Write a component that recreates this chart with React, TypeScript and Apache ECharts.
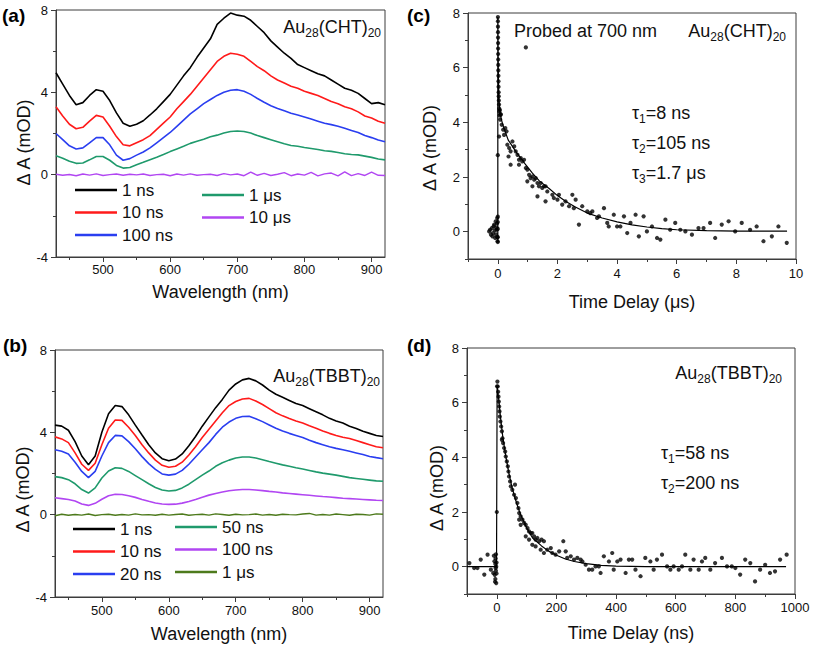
import React, { useEffect, useRef } from 'react';
import * as echarts from 'echarts';

const FONT = '"Liberation Sans", Arial, Helvetica, sans-serif';

// ---------- Panel (a)/(b) wavelength grid ----------
const wavelengths = [
  430, 440, 450, 460, 470, 480, 490, 500, 510, 520,
  530, 540, 550, 560, 570, 580, 590, 600, 610, 620,
  630, 640, 650, 660, 670, 680, 690, 700, 710, 720,
  730, 740, 750, 760, 770, 780, 790, 800, 810, 820,
  830, 840, 850, 860, 870, 880, 890, 900, 910, 920,
];

// ---------- Panel (a): Au28(CHT)20 ----------
const cht1ns = [
  4.95, 4.4, 3.85, 3.4, 3.5, 3.85, 4.13, 4.05, 3.6, 3.0,
  2.5, 2.35, 2.45, 2.62, 2.9, 3.2, 3.55, 3.9, 4.35, 4.8,
  5.2, 5.7, 6.15, 6.6, 7.3, 7.6, 7.85, 7.75, 7.7, 7.5,
  7.2, 6.9, 6.5, 6.2, 5.9, 5.65, 5.35, 5.2, 5.05, 4.9,
  4.8, 4.6, 4.4, 4.2, 4.1, 3.95, 3.7, 3.45, 3.5, 3.4,
];
const cht10ns = [
  3.3, 2.85, 2.45, 2.23, 2.3, 2.6, 2.88, 2.8, 2.35, 1.85,
  1.45, 1.4, 1.55, 1.7, 1.9, 2.2, 2.5, 2.8, 3.2, 3.55,
  3.9, 4.3, 4.7, 5.1, 5.5, 5.75, 5.9, 5.85, 5.75, 5.5,
  5.25, 5.05, 4.8, 4.6, 4.45, 4.3, 4.2, 4.05, 3.95, 3.85,
  3.7, 3.55, 3.45, 3.3, 3.2, 3.05, 2.85, 2.75, 2.6, 2.5,
];
const cht100ns = [
  2.0, 1.7, 1.4, 1.25, 1.3, 1.55, 1.8, 1.8, 1.45, 0.95,
  0.7, 0.78, 0.95, 1.1, 1.3, 1.55, 1.8, 2.05, 2.35, 2.65,
  2.95, 3.2, 3.45, 3.65, 3.85, 4.0, 4.1, 4.13, 4.05, 3.9,
  3.7, 3.52, 3.35, 3.22, 3.1, 2.98, 2.9, 2.8, 2.7, 2.6,
  2.5, 2.43, 2.35, 2.25, 2.15, 2.05, 1.9, 1.8, 1.68, 1.6,
];
const cht1us = [
  0.92, 0.8, 0.65, 0.55, 0.57, 0.72, 0.88, 0.88, 0.7, 0.45,
  0.32, 0.35, 0.48, 0.6, 0.73, 0.85, 0.98, 1.12, 1.25, 1.38,
  1.52, 1.62, 1.72, 1.84, 1.92, 2.02, 2.1, 2.12, 2.1, 2.02,
  1.9, 1.8, 1.7, 1.6, 1.5, 1.42, 1.38, 1.32, 1.27, 1.22,
  1.16, 1.13, 1.08, 1.02, 0.98, 0.96, 0.9, 0.84, 0.76, 0.72,
];
const cht10us = [
  0.02, -0.03, 0.01, -0.05, 0.03, -0.02, 0.04, -0.04, 0.0, 0.03,
  -0.03, 0.02, -0.01, 0.03, -0.04, 0.0, 0.02, -0.05, 0.03, -0.02,
  0.04, -0.03, 0.0, 0.02, -0.04, 0.05, -0.01, 0.03, -0.05, 0.12,
  -0.03, 0.06, -0.04, 0.02, 0.1, -0.05, 0.03, -0.02, 0.11, -0.06,
  0.04, 0.08, -0.06, 0.14, -0.05, 0.05, -0.04, 0.12, -0.03, -0.04,
];

// ---------- Panel (b): Au28(TBBT)20 ----------
const tbbt1ns = [
  4.35, 4.3, 4.1, 3.55, 2.85, 2.42, 2.85, 4.0, 4.9, 5.3,
  5.25, 4.85, 4.35, 3.87, 3.4, 3.0, 2.72, 2.62, 2.7, 2.95,
  3.35, 3.8, 4.3, 4.75, 5.2, 5.6, 6.05, 6.35, 6.55, 6.62,
  6.5, 6.3, 6.05, 5.85, 5.7, 5.55, 5.4, 5.3, 5.15, 5.0,
  4.85, 4.68, 4.55, 4.45, 4.3, 4.19, 4.05, 3.95, 3.85, 3.8,
];
const tbbt10ns = [
  3.78, 3.68, 3.5, 3.0, 2.45, 2.15, 2.5, 3.4, 4.2, 4.6,
  4.58, 4.25, 3.85, 3.4, 3.0, 2.65, 2.4, 2.3, 2.35, 2.55,
  2.9, 3.3, 3.75, 4.15, 4.55, 4.95, 5.3, 5.5, 5.62, 5.65,
  5.52, 5.35, 5.15, 4.95, 4.8, 4.67, 4.55, 4.45, 4.32, 4.2,
  4.07, 3.95, 3.85, 3.76, 3.7, 3.6, 3.5, 3.4, 3.3, 3.25,
];
const tbbt20ns = [
  3.15, 3.08, 2.95, 2.55, 2.1, 1.8, 2.1, 2.85, 3.5, 3.85,
  3.83, 3.55, 3.2, 2.82, 2.48, 2.2, 1.98, 1.92, 1.97, 2.15,
  2.45, 2.8, 3.15, 3.5, 3.9, 4.25, 4.5, 4.68, 4.77, 4.78,
  4.66, 4.52, 4.36, 4.2, 4.06, 3.95, 3.85, 3.75, 3.62, 3.5,
  3.4, 3.3, 3.22, 3.15, 3.08, 3.0, 2.92, 2.83, 2.77, 2.72,
];
const tbbt50ns = [
  1.85, 1.8, 1.7, 1.5, 1.22, 1.05, 1.3, 1.78, 2.12, 2.28,
  2.25, 2.1, 1.9, 1.7, 1.5, 1.32, 1.2, 1.15, 1.18, 1.3,
  1.48, 1.7, 1.92, 2.12, 2.35, 2.52, 2.65, 2.75, 2.8, 2.8,
  2.75, 2.67, 2.58, 2.5, 2.42, 2.35, 2.28, 2.22, 2.15, 2.08,
  2.02, 1.97, 1.92, 1.86, 1.8, 1.76, 1.72, 1.68, 1.64, 1.62,
];
const tbbt100ns = [
  0.82, 0.78, 0.74, 0.66, 0.52, 0.45, 0.55, 0.75, 0.92, 0.99,
  0.98, 0.92, 0.84, 0.74, 0.65, 0.57, 0.52, 0.5, 0.51, 0.56,
  0.64, 0.74, 0.85, 0.95, 1.03, 1.1, 1.16, 1.2, 1.22, 1.22,
  1.2, 1.17, 1.13, 1.1, 1.06, 1.03, 1.0, 0.97, 0.94, 0.91,
  0.88, 0.86, 0.83, 0.8, 0.78, 0.76, 0.74, 0.72, 0.7, 0.69,
];
const tbbt1us = [
  -0.05, 0.02, -0.03, 0.01, -0.02, 0.03, -0.04, 0.0, 0.02, -0.03,
  0.01, -0.02, 0.04, -0.01, 0.0, -0.03, 0.02, -0.02, 0.01, 0.03,
  -0.03, 0.0, 0.02, -0.02, 0.04, 0.01, -0.03, 0.02, -0.01, 0.0,
  0.03, -0.02, 0.01, -0.03, 0.02, 0.0, -0.01, 0.03, 0.06, -0.02,
  0.01, -0.02, 0.03, 0.0, -0.03, 0.02, 0.01, -0.02, 0.04, 0.02,
];

// ---------- Panel (c): kinetics, probed at 700 nm (x in µs) ----------
const chtKineticPoints = [
  [-0.29, 0.01], [-0.26, 0.07], [-0.23, -0.11], [-0.2, 0.13], [-0.18, -0.17], [-0.16, -0.05],
  [-0.14, 0.2], [-0.12, 0.26], [-0.1, 0.05], [-0.09, -0.23], [-0.07, 0.38], [-0.06, -0.1],
  [-0.05, 0.15], [-0.04, 0.07], [-0.03, 0.3], [-0.02, 0.5], [-0.02, -0.2], [-0.01, -0.35],
  [0, -0.38], [0, -0.2], [0, 0.1], [0, 0.35], [0, 0.55], [0, 2.8],
  [0.003, 7.85], [0.004, 7.7], [0.005, 7.5], [0.006, 7.3], [0.008, 7.1], [0.009, 6.9],
  [0.01, 6.7], [0.012, 6.5], [0.013, 6.3], [0.015, 6.1], [0.017, 5.9], [0.02, 5.7],
  [0.022, 5.5], [0.025, 5.3], [0.028, 5.1], [0.03, 4.95], [0.035, 4.8], [0.04, 4.65],
  [0.045, 4.5], [0.05, 4.4], [0.06, 4.25], [0.07, 4.45], [0.08, 4.1], [0.09, 4.3],
  [0.1, 4.28], [0.13, 3.91], [0.04, 3.48], [0.18, 3.73], [0.21, 3.54], [0.25, 3.79],
  [0.29, 3.67], [0.32, 3.18], [0.38, 3.06], [0.43, 2.94], [0.36, 2.75], [0.55, 3.12],
  [0.6, 2.94], [0.66, 2.81], [0.71, 2.63], [0.77, 2.69], [0.82, 2.57], [0.88, 2.63],
  [0.49, 3.3], [0.43, 2.45], [0.71, 2.45], [0.94, 2.33], [0.99, 2.27], [1.05, 2.08],
  [1.1, 1.96], [1.16, 2.02], [1.22, 1.9], [1.27, 1.96], [1.33, 1.78], [1.38, 1.66],
  [1.44, 1.78], [1.49, 1.6], [1.55, 1.66], [1.6, 1.66], [1.66, 1.47], [0.99, 1.84],
  [1.16, 1.66], [1.33, 1.29], [1.6, 1.11], [1.83, 1.35], [1.88, 1.23], [2.0, 1.17],
  [2.05, 1.35], [2.16, 0.99], [2.27, 1.11], [2.39, 0.93], [2.5, 1.35], [2.55, 0.86],
  [2.61, 1.17], [2.72, 0.26], [2.83, 0.93], [3.0, 0.74], [3.1, 0.68], [3.17, 0.74],
  [3.33, 0.5], [3.39, 0.56], [3.56, 0.86], [3.67, 0.32], [3.72, 0.19], [3.89, 0.62],
  [4.0, 0.19], [4.11, 0.19], [4.23, 0.56], [4.34, -0.05], [4.45, 0.32], [4.62, 0.62],
  [4.73, -0.17], [4.89, 0.56], [5.0, 0.01], [5.17, 0.19], [5.34, -0.23], [5.45, -0.29],
  [5.62, 0.44], [5.78, 0.07], [5.95, 0.32], [6.12, 0.07], [6.29, 0.01], [6.51, -0.11],
  [6.73, 0.13], [6.9, 0.13], [7.12, 0.32], [7.29, -0.23], [7.51, 0.26], [7.74, 0.38],
  [7.96, 0.01], [8.18, 0.32], [8.46, 0.07], [8.68, 0.19], [8.91, -0.35], [9.19, -0.17],
  [9.41, 0.19], [9.69, -0.41], [0.94, 6.74],
];
const chtKineticFit = [
  [0, -0.38], [0, 7.85], [0.01, 6.6], [0.02, 5.6], [0.04, 4.8], [0.07, 4.4], [0.12, 4.1],
  [0.2, 3.8], [0.35, 3.35], [0.6, 2.94], [0.9, 2.5], [1.16, 2.14], [1.4, 1.85], [1.72, 1.58],
  [2.0, 1.32], [2.27, 1.11], [2.6, 0.9], [3.0, 0.68], [3.5, 0.5], [4.0, 0.36], [4.5, 0.25],
  [5.0, 0.17], [5.5, 0.11], [6.0, 0.07], [7.0, 0.04], [8.0, 0.02], [9.7, 0.02],
];

// ---------- Panel (d): kinetics (x in ns) ----------
const tbbtKineticPoints = [
  [-92, 0.13], [-76, -0.05], [-65, -0.05], [-54, 0.26], [-42, -0.29], [-31, 0.44], [-20, -0.11],
  [-12, -0.23], [-10, 0.4], [-8, 0.2], [-7, -0.3], [-6, -0.55], [-5, 0.1], [-5, -0.45],
  [-4, -0.05], [-4, 0.3], [-3, -0.15], [-3, 0.45], [-2, 0.0], [-2, -0.6], [-1, 0.15], [-1, -0.25],
  [0, 2.0], [1, 6.6], [2, 6.77], [3, 6.59], [4.5, 6.4], [5.6, 6.22], [6.7, 6.04], [7.8, 5.86],
  [9, 5.68], [10, 5.49], [12, 5.31], [14.5, 5.13], [17, 4.95], [17, 4.64], [19, 4.7], [21, 4.52],
  [24.5, 4.34], [28, 4.21], [30, 4.03], [33.5, 3.85], [37, 3.67], [39, 3.48], [41, 3.3],
  [44.6, 3.12], [47, 2.94], [52, 2.81], [58, 2.63], [61, 3.0], [64, 2.51], [69, 2.33],
  [72.5, 2.14], [75, 1.96], [80, 1.84], [86, 1.72], [91.5, 1.6], [97, 1.53], [103, 1.41],
  [108, 1.29], [75, 1.72], [80, 1.53], [114, 1.23], [119, 1.23], [125, 1.11], [130, 0.99],
  [136, 1.05], [142, 0.93], [150, 0.99], [158, 0.93], [97, 1.11], [108, 0.99], [119, 0.8],
  [130, 0.74], [147, 0.62], [158, 0.5], [169, 0.62], [181, 0.68], [186, 0.5], [197, 0.44],
  [209, 0.56], [223, 0.93], [231, 0.56], [236, 0.32], [248, 0.38], [259, 0.26], [270, 0.32],
  [281, 0.26], [287, 0.19], [298, 0.07], [309, -0.11], [320, -0.11], [331, 0.01], [342, 0.01],
  [348, -0.23], [359, 0.38], [376, 0.19], [387, 0.5], [392, -0.11], [404, 0.19], [415, 0.26],
  [432, -0.23], [443, 0.26], [454, 0.26], [465, -0.11], [482, -0.35], [498, 0.32], [515, 0.19],
  [526, -0.11], [537, 0.26], [554, 0.44], [571, 0.01], [582, -0.11], [593, 0.01], [610, -0.11],
  [621, 0.01], [632, 0.44], [649, -0.11], [660, 0.26], [677, -0.11], [688, 0.19], [699, 0.32],
  [716, -0.11], [732, 0.13], [755, 0.32], [772, 0.01], [788, 0.01], [800, -0.05], [816, -0.29],
  [833, 0.26], [850, 0.13], [866, -0.54], [883, -0.11], [900, 0.07], [916, -0.23], [933, -0.17],
  [950, 0.26], [972, 0.44],
];
const tbbtKineticFit = [
  [-100, 0], [-1, 0], [1, 6.6], [4, 6.35], [8, 5.95], [12, 5.5], [20, 4.75], [30, 4.05],
  [40, 3.45], [50, 2.95], [60, 2.55], [70, 2.2], [80, 1.9], [100, 1.42], [120, 1.05],
  [150, 0.76], [175, 0.56], [200, 0.42], [230, 0.28], [260, 0.19], [300, 0.11], [350, 0.05],
  [400, 0.02], [500, 0.0], [970, 0.0],
];

// ---------- Axis tick positions ----------
const specXMajor = [500, 600, 700, 800, 900];
const specXMinor = [450, 550, 650, 750, 850];
const specYMajor = [-4, 0, 4, 8];
const specYMinor = [-2, 2, 6];
const usXMajor = [0, 2, 4, 6, 8, 10];
const usXMinor = [-1, 1, 3, 5, 7, 9];
const nsXMajor = [0, 200, 400, 600, 800, 1000];
const nsXMinor = [-100, 100, 300, 500, 700, 900];
const kinYMajor = [0, 2, 4, 6, 8];
const kinYMinor = [-1, 1, 3, 5, 7];

const AXIS_COLOR = '#3c3c3c';
const TEXT_COLOR = '#111';

const COLORS = {
  black: '#000000',
  red: '#ff1a1a',
  blue: '#2a3ef0',
  green: '#1f9a6c',
  purple: '#b146f2',
  olive: '#4d7a1c',
};

const plainNumber = (v: number) => String(v);

function xAxes(gridIndex: number, min: number, max: number, major: number[], minor: number[], name: string, nameGap: number, labelMargin: number) {
  return [
    {
      type: 'value', gridIndex, min, max, position: 'bottom',
      axisLine: { show: true, onZero: false, lineStyle: { color: AXIS_COLOR, width: 1 } },
      axisTick: { show: true, inside: false, length: 5, customValues: major, lineStyle: { color: AXIS_COLOR } },
      axisLabel: { show: true, customValues: major, formatter: plainNumber, margin: labelMargin, fontSize: 13, color: TEXT_COLOR, fontFamily: FONT },
      splitLine: { show: false },
      name, nameLocation: 'middle', nameGap,
      nameTextStyle: { fontSize: 18, color: TEXT_COLOR, fontFamily: FONT },
    },
    {
      type: 'value', gridIndex, min, max, position: 'bottom',
      axisLine: { show: false, onZero: false },
      axisTick: { show: true, inside: false, length: 3, customValues: minor, lineStyle: { color: AXIS_COLOR } },
      axisLabel: { show: false },
      splitLine: { show: false },
    },
  ];
}

function yAxes(gridIndex: number, min: number, max: number, major: number[], minor: number[], nameGap: number, shiftDown: number) {
  return [
    {
      type: 'value', gridIndex, min, max, position: 'left',
      axisLine: { show: true, onZero: false, lineStyle: { color: AXIS_COLOR, width: 1 } },
      axisTick: { show: true, inside: false, length: 5, customValues: major, lineStyle: { color: AXIS_COLOR } },
      axisLabel: { show: true, customValues: major, formatter: plainNumber, margin: 8, fontSize: 13, color: TEXT_COLOR, fontFamily: FONT },
      splitLine: { show: false },
      name: 'Δ A (mOD)', nameLocation: 'middle', nameGap,
      nameTextStyle: { fontSize: 18, color: TEXT_COLOR, fontFamily: FONT, padding: [0, shiftDown * 2, 0, 0] },
    },
    {
      type: 'value', gridIndex, min, max, position: 'left',
      axisLine: { show: false, onZero: false },
      axisTick: { show: true, inside: false, length: 3, customValues: minor, lineStyle: { color: AXIS_COLOR } },
      axisLabel: { show: false },
      splitLine: { show: false },
    },
  ];
}

function spectrum(id: string, grid: number, values: number[], color: string, width = 1.6) {
  return {
    type: 'line', name: id, xAxisIndex: grid * 2, yAxisIndex: grid * 2,
    data: wavelengths.map((w, i) => [w, values[i]]),
    symbol: 'none', showSymbol: false,
    lineStyle: { color, width }, itemStyle: { color },
    z: 3,
  };
}

const legendLabel = (n: string) => n.slice(2);

function legendBlock(left: number, top: number, names: string[]) {
  return {
    show: true, orient: 'vertical', left, top, data: names,
    formatter: legendLabel, selectedMode: false,
    icon: 'rect',
    itemWidth: 42, itemHeight: 2.4, itemGap: 2.5,
    textStyle: { fontSize: 17, color: TEXT_COLOR, fontFamily: FONT, lineHeight: 20 },
    padding: 0,
  };
}

const subRich = {
  n: { fontSize: 18, fontFamily: FONT, lineHeight: 24, fill: TEXT_COLOR, verticalAlign: 'middle' },
  s: { fontSize: 12, fontFamily: FONT, lineHeight: 12, fill: TEXT_COLOR, verticalAlign: 'bottom' },
};

function richText(x: number, y: number, text: string, align: string) {
  return {
    type: 'text', x, y, z: 10,
    style: { text, rich: subRich, align, verticalAlign: 'middle', fontSize: 18, fontFamily: FONT, fill: TEXT_COLOR },
  };
}

function panelLabel(x: number, y: number, text: string) {
  return {
    type: 'text', x, y, z: 10,
    style: { text, fontSize: 19, fontWeight: 'bold', fontFamily: FONT, fill: '#000', align: 'left', verticalAlign: 'middle' },
  };
}

export default function App() {
  const ref = useRef<HTMLDivElement>(null);

  useEffect(() => {
    if (!ref.current) return;
    const chart = echarts.init(ref.current, undefined, { renderer: 'svg' });

    const option: any = {
      animation: false,
      backgroundColor: '#ffffff',
      grid: [
        { left: 56, top: 10, width: 329, height: 247, show: true, borderColor: AXIS_COLOR, borderWidth: 1, backgroundColor: 'transparent', outerBoundsMode: 'none' },
        { left: 468, top: 13, width: 328, height: 246, show: true, borderColor: AXIS_COLOR, borderWidth: 1, backgroundColor: 'transparent', outerBoundsMode: 'none' },
        { left: 55, top: 350, width: 328, height: 247, show: true, borderColor: AXIS_COLOR, borderWidth: 1, backgroundColor: 'transparent', outerBoundsMode: 'none' },
        { left: 467, top: 348, width: 328, height: 246, show: true, borderColor: AXIS_COLOR, borderWidth: 1, backgroundColor: 'transparent', outerBoundsMode: 'none' },
      ],
      xAxis: [
        ...xAxes(0, 430, 920, specXMajor, specXMinor, 'Wavelength (nm)', 26, 6),
        ...xAxes(1, -1, 10, usXMajor, usXMinor, 'Time Delay (μs)', 34, 8),
        ...xAxes(2, 430, 920, specXMajor, specXMinor, 'Wavelength (nm)', 28, 7),
        ...xAxes(3, -100, 1000, nsXMajor, nsXMinor, 'Time Delay (ns)', 30, 7),
      ],
      yAxis: [
        ...yAxes(0, -4, 8, specYMajor, specYMinor, 20, 9),
        ...yAxes(1, -1, 8, kinYMajor, kinYMinor, 29, 12),
        ...yAxes(2, -4, 8, specYMajor, specYMinor, 21, 16),
        ...yAxes(3, -1, 8, kinYMajor, kinYMinor, 21, 17),
      ],
      legend: [
        legendBlock(75, 180, ['a:1 ns', 'a:10 ns', 'a:100 ns']),
        legendBlock(202, 185, ['a:1 μs', 'a:10 μs']),
        legendBlock(73, 519, ['b:1 ns', 'b:10 ns', 'b:20 ns']),
        legendBlock(175, 517, ['b:50 ns', 'b:100 ns', 'b:1 μs']),
      ],
      series: [
        spectrum('a:10 μs', 0, cht10us, COLORS.purple, 1.4),
        spectrum('a:1 μs', 0, cht1us, COLORS.green),
        spectrum('a:100 ns', 0, cht100ns, COLORS.blue),
        spectrum('a:10 ns', 0, cht10ns, COLORS.red),
        spectrum('a:1 ns', 0, cht1ns, COLORS.black),
        spectrum('b:1 μs', 2, tbbt1us, COLORS.olive, 1.4),
        spectrum('b:100 ns', 2, tbbt100ns, COLORS.purple),
        spectrum('b:50 ns', 2, tbbt50ns, COLORS.green),
        spectrum('b:20 ns', 2, tbbt20ns, COLORS.blue),
        spectrum('b:10 ns', 2, tbbt10ns, COLORS.red),
        spectrum('b:1 ns', 2, tbbt1ns, COLORS.black),
        {
          type: 'scatter', name: 'c-points', xAxisIndex: 2, yAxisIndex: 2,
          data: chtKineticPoints, symbol: 'circle', symbolSize: 4.2,
          itemStyle: { color: '#000' }, z: 3,
        },
        {
          type: 'line', name: 'c-fit', xAxisIndex: 2, yAxisIndex: 2,
          data: chtKineticFit, symbol: 'none', showSymbol: false, smooth: false,
          lineStyle: { color: '#000', width: 1.2 }, z: 4,
        },
        {
          type: 'scatter', name: 'd-points', xAxisIndex: 6, yAxisIndex: 6,
          data: tbbtKineticPoints, symbol: 'circle', symbolSize: 4.2,
          itemStyle: { color: '#000' }, z: 3,
        },
        {
          type: 'line', name: 'd-fit', xAxisIndex: 6, yAxisIndex: 6,
          data: tbbtKineticFit, symbol: 'none', showSymbol: false, smooth: false,
          lineStyle: { color: '#000', width: 1.2 }, z: 4,
        },
      ],
      graphic: [
        panelLabel(2, 15, '(a)'),
        panelLabel(407, 15, '(c)'),
        panelLabel(3, 345, '(b)'),
        panelLabel(407, 345, '(d)'),
        richText(381, 27, '{n|Au}{s|28}{n|(CHT)}{s|20}', 'right'),
        richText(514, 31, '{n|Probed at 700 nm}', 'left'),
        richText(786, 31, '{n|Au}{s|28}{n|(CHT)}{s|20}', 'right'),
        richText(632, 113, '{n|τ}{s|1}{n|=8 ns}', 'left'),
        richText(632, 143, '{n|τ}{s|2}{n|=105 ns}', 'left'),
        richText(632, 173, '{n|τ}{s|3}{n|=1.7 μs}', 'left'),
        richText(380, 376, '{n|Au}{s|28}{n|(TBBT)}{s|20}', 'right'),
        richText(782, 373, '{n|Au}{s|28}{n|(TBBT)}{s|20}', 'right'),
        richText(661, 453, '{n|τ}{s|1}{n|=58 ns}', 'left'),
        richText(661, 483, '{n|τ}{s|2}{n|=200 ns}', 'left'),
      ],
    };

    chart.setOption(option);
    return () => chart.dispose();
  }, []);

  return (
    <div
      ref={ref}
      style={{ position: 'absolute', left: 0, top: 0, width: 813, height: 649, background: '#fff' }}
    />
  );
}
